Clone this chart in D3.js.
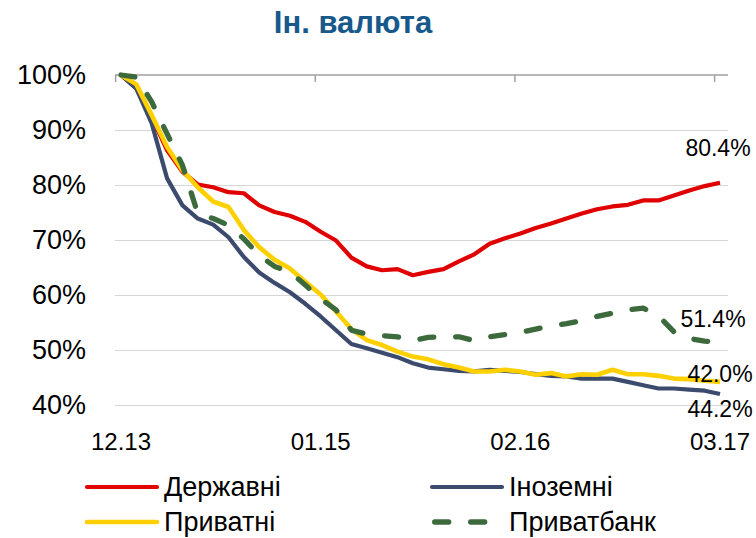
<!DOCTYPE html>
<html>
<head>
<meta charset="utf-8">
<script src="https://cdn.jsdelivr.net/npm/d3@7"></script>
<style>
  html, body { margin: 0; padding: 0; background: #ffffff; }
  svg { display: block; font-family: "Liberation Sans", Arial, sans-serif; }
</style>
</head>
<body>
<svg id="chart" width="756" height="538"></svg>
<script>
// ---- data ----
const title = "Ін. валюта";
const months = ["12.13",
  "01.14","02.14","03.14","04.14","05.14","06.14","07.14","08.14","09.14","10.14","11.14","12.14",
  "01.15","02.15","03.15","04.15","05.15","06.15","07.15","08.15","09.15","10.15","11.15","12.15",
  "01.16","02.16","03.16","04.16","05.16","06.16","07.16","08.16","09.16","10.16","11.16","12.16",
  "01.17","02.17","03.17"];
const tickLabels = ["12.13", "01.15", "02.16", "03.17"];
const yTicks = [40, 50, 60, 70, 80, 90, 100];

const derzhavni = [100, 97.6, 92.4, 86.3, 82.4, 80.1, 79.6, 78.7, 78.5, 76.3, 75.1, 74.4, 73.3, 71.5,
  69.9, 66.8, 65.2, 64.5, 64.7, 63.6, 64.2, 64.7, 66.1, 67.4, 69.3, 70.3,
  71.2, 72.2, 73.0, 73.9, 74.8, 75.6, 76.1, 76.4, 77.2, 77.2, 78.1, 79.0, 79.8, 80.4];
const inozemni = [100, 97.5, 91.2, 81.2, 76.3, 73.9, 72.8, 70.5, 66.9, 64.1, 62.2, 60.5, 58.4, 56.1,
  53.6, 51.1, 50.3, 49.5, 48.7, 47.6, 46.8, 46.5, 46.2, 46.1, 46.4, 46.2,
  46.0, 45.6, 45.3, 45.2, 44.8, 44.8, 44.8, 44.2, 43.6, 43.0, 43.0, 42.8, 42.6, 42.0];
const pryvatni = [100, 98.3, 92.7, 86.9, 82.7, 79.6, 77.0, 76.0, 71.8, 68.7, 66.4, 64.8, 62.4, 60.1,
  57.0, 53.8, 51.8, 50.9, 49.7, 48.8, 48.3, 47.4, 46.8, 46.1, 46.1, 46.4,
  46.1, 45.5, 45.8, 45.2, 45.6, 45.5, 46.4, 45.6, 45.6, 45.3, 44.8, 44.7, 44.4, 44.2];
const pryvatbank = [100, 99.6, 95.1, 89.3, 83.6, 74.8, 73.9, 72.7, 70.2, 67.2, 65.2, 64.2, 61.8, 59.3,
  57.3, 53.6, 52.9, 52.6, 52.4, 51.7, 52.3, 52.4, 52.4, 51.7, 52.4, 52.8,
  53.2, 53.8, 54.4, 54.8, 55.3, 56.1, 56.7, 57.3, 57.6, 56.2, 53.3, 52.1, 51.6, 51.4];

const seriesNames = ["Державні", "Іноземні", "Приватні", "Приватбанк"];
const endLabels = ["80.4%", "42.0%", "44.2%", "51.4%"];

// ---- styles ----
const styles = {
  "Державні":   { color: "#e00000", width: 4.2, dash: null },
  "Іноземні":   { color: "#3b4a6d", width: 4.2, dash: null },
  "Приватні":   { color: "#ffd000", width: 4.6, dash: null },
  "Приватбанк": { color: "#3c6a3c", width: 5.3, dash: "14,22" }
};
const series = [
  { name: "Державні", values: derzhavni, label: endLabels[0], ldx: -2, ldy: -27 },
  { name: "Іноземні", values: inozemni, label: endLabels[2], ldx: 0, ldy: 23 },
  { name: "Приватні", values: pryvatni, label: endLabels[1], ldx: 0, ldy: 0 },
  { name: "Приватбанк", values: pryvatbank, label: endLabels[3], ldx: -7, ldy: -15 }
];

const svg = d3.select("#chart");

const x = d3.scalePoint().domain(months).range([121, 720]);
const step = x.step();
const y = d3.scaleLinear().domain([40, 100]).range([405, 75]);
const plotL = 115, plotR = 728;

// title
svg.append("text")
  .attr("x", 353).attr("y", 33)
  .attr("text-anchor", "middle")
  .attr("font-size", 31).attr("font-weight", "bold")
  .attr("fill", "#17598b")
  .text(title);

// gridlines
svg.append("g").selectAll("line")
  .data(yTicks.filter(d => d !== 100))
  .join("line")
  .attr("x1", plotL).attr("x2", plotR)
  .attr("y1", d => Math.round(y(d)) + 0.5).attr("y2", d => Math.round(y(d)) + 0.5)
  .attr("stroke", "#d6d6d6").attr("stroke-width", 1.2);

// top axis line (100%)
svg.append("line")
  .attr("x1", plotL).attr("x2", plotR)
  .attr("y1", y(100)).attr("y2", y(100))
  .attr("stroke", "#a0a0a0").attr("stroke-width", 1.5);

// tick marks
svg.append("g").selectAll("line")
  .data(tickLabels)
  .join("line")
  .attr("x1", d => x(d) - 0.35 * step).attr("x2", d => x(d) - 0.35 * step)
  .attr("y1", y(100)).attr("y2", y(100) + 7)
  .attr("stroke", "#a0a0a0").attr("stroke-width", 1.5);

// y labels
svg.append("g").selectAll("text")
  .data(yTicks)
  .join("text")
  .attr("x", 86).attr("y", d => y(d))
  .attr("dy", "0.35em")
  .attr("text-anchor", "end")
  .attr("font-size", 27)
  .attr("fill", "#000")
  .text(d => d + "%");

// x labels
svg.append("g").selectAll("text")
  .data(tickLabels)
  .join("text")
  .attr("x", d => x(d)).attr("y", 450)
  .attr("text-anchor", "middle")
  .attr("font-size", 24)
  .attr("fill", "#000")
  .text(d => d);

// lines
const line = d3.line()
  .x((d, i) => x(months[i]))
  .y(d => y(d));

const order = ["Державні", "Іноземні", "Приватні", "Приватбанк"];
order.forEach(name => {
  const s = series.find(e => e.name === name);
  const st = styles[name];
  svg.append("path")
    .datum(s.values)
    .attr("d", line)
    .attr("fill", "none")
    .attr("stroke", st.color)
    .attr("stroke-width", st.width)
    .attr("stroke-linejoin", "round")
    .attr("stroke-linecap", st.dash ? "round" : "butt")
    .attr("stroke-dasharray", st.dash);
});

// end labels
svg.append("g").selectAll("text")
  .data(series)
  .join("text")
  .attr("x", d => x(months[months.length - 1]) + d.ldx)
  .attr("y", d => y(d.values[d.values.length - 1]) + d.ldy)
  .attr("text-anchor", "middle")
  .attr("font-size", 23)
  .attr("fill", "#000")
  .text(d => d.label);

// legend
const legendItems = [
  { name: seriesNames[0], lx: 87, ly: 487 },
  { name: seriesNames[1], lx: 432, ly: 487 },
  { name: seriesNames[2], lx: 87, ly: 522 },
  { name: seriesNames[3], lx: 432, ly: 522 }
];
const lg = svg.append("g").selectAll("g")
  .data(legendItems)
  .join("g");
lg.append("line")
  .attr("x1", d => styles[d.name].dash ? d.lx + 2.7 : d.lx)
  .attr("x2", d => d.lx + 70)
  .attr("y1", d => d.ly).attr("y2", d => d.ly)
  .attr("stroke", d => styles[d.name].color)
  .attr("stroke-width", d => styles[d.name].width)
  .attr("stroke-linecap", "round")
  .attr("stroke-dasharray", d => styles[d.name].dash);
lg.append("text")
  .attr("x", d => d.lx + 77)
  .attr("y", d => d.ly)
  .attr("dy", "0.35em")
  .attr("font-size", 27)
  .attr("fill", "#000")
  .text(d => d.name);
</script>
</body>
</html>
